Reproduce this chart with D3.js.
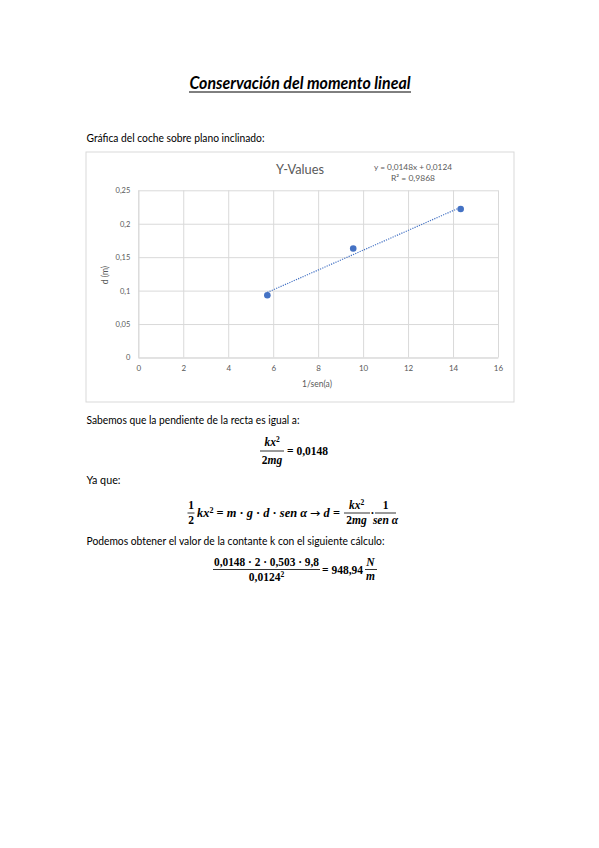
<!DOCTYPE html>
<html>
<head>
<meta charset="utf-8">
<style>
  body { margin: 0; background: #fff; }
  svg { display: block; }
  .body-text { font-family: Lato, "Open Sans", sans-serif; font-size: 10.5px; fill: #000; }
  .math { font-family: "Liberation Serif", "DejaVu Serif", serif; font-size: 11.5px; font-weight: bold; fill: #000; }
  .axis text { font-family: Lato, sans-serif; fill: #595959; }
</style>
</head>
<body>
<div id="page"></div>
<script src="https://d3js.org/d3.v7.min.js"></script>
<script>
  // Data
  const xValues = [5.74, 9.56, 14.34];
  const yValues = [0.093, 0.163, 0.222];
  const xTicks = [0, 2, 4, 6, 8, 10, 12, 14, 16];
  const yTicks = [0, 0.05, 0.1, 0.15, 0.2, 0.25];
  const yTickLabels = ['0', '0,05', '0,1', '0,15', '0,2', '0,25'];
  const trendSlope = 0.0148;
  const trendIntercept = 0.0124;

  const W = 599, H = 848;
  const svg = d3.select('#page').append('svg')
    .attr('width', W).attr('height', H);
  svg.append('rect').attr('width', W).attr('height', H).attr('fill', '#fff');

  // Page title
  svg.append('text')
    .attr('x', 300).attr('y', 89)
    .attr('text-anchor', 'middle')
    .attr('font-family', 'Lato, sans-serif')
    .attr('font-size', 16.5)
    .attr('font-weight', 'bold')
    .attr('font-style', 'italic')
    .attr('textLength', 221)
    .attr('lengthAdjust', 'spacingAndGlyphs')
    .text('Conservación del momento lineal');
  svg.append('line')
    .attr('x1', 189).attr('x2', 411).attr('y1', 92).attr('y2', 92)
    .attr('stroke', '#000').attr('stroke-width', 1);

  function para(txt, y, len) {
    svg.append('text').attr('class', 'body-text')
      .attr('x', 86.5).attr('y', y)
      .attr('textLength', len).attr('lengthAdjust', 'spacingAndGlyphs')
      .text(txt);
  }
  para('Gráfica del coche sobre plano inclinado:', 141.5, 178);
  para('Sabemos que la pendiente de la recta es igual a:', 424, 213);
  para('Ya que:', 484, 34);
  para('Podemos obtener el valor de la contante k con el siguiente cálculo:', 544.5, 298);

  // Chart frame
  svg.append('rect')
    .attr('x', 86).attr('y', 152).attr('width', 428).attr('height', 250)
    .attr('fill', '#fff').attr('stroke', '#d9d9d9').attr('stroke-width', 1);

  const plot = { left: 138.3, right: 498, top: 190.3, bottom: 357.5 };

  const x = d3.scaleLinear().domain([0, 16]).range([plot.left, plot.right]);
  const y = d3.scaleLinear().domain([0, 0.25]).range([plot.bottom, plot.top]);

  // Gridlines via axes
  const xAxis = d3.axisBottom(x).tickValues(xTicks)
    .tickSizeInner(-(plot.bottom - plot.top)).tickSizeOuter(0).tickPadding(8)
    .tickFormat(d3.format('d'));
  const gx = svg.append('g').attr('class', 'axis')
    .attr('transform', `translate(0,${plot.bottom})`).call(xAxis);
  gx.select('.domain').attr('stroke', '#d9d9d9');
  gx.selectAll('.tick line').attr('stroke', '#d9d9d9');
  gx.selectAll('.tick text').attr('font-size', 8);

  const yAxis = d3.axisLeft(y).tickValues(yTicks)
    .tickSizeInner(-(plot.right - plot.left)).tickSizeOuter(0).tickPadding(8)
    .tickFormat((d, i) => yTickLabels[i]);
  const gy = svg.append('g').attr('class', 'axis')
    .attr('transform', `translate(${plot.left},0)`).call(yAxis);
  gy.select('.domain').attr('stroke', '#d9d9d9');
  gy.selectAll('.tick line').attr('stroke', '#d9d9d9');
  gy.selectAll('.tick text').attr('font-size', 7.5);

  // Chart title
  svg.append('text')
    .attr('x', 300).attr('y', 173.5).attr('text-anchor', 'middle')
    .attr('font-family', 'Lato, sans-serif').attr('font-size', 13)
    .attr('fill', '#595959')
    .attr('textLength', 48).attr('lengthAdjust', 'spacingAndGlyphs')
    .text('Y-Values');

  // Axis titles
  svg.append('text')
    .attr('x', 317).attr('y', 387).attr('text-anchor', 'middle')
    .attr('font-family', 'Lato, sans-serif').attr('font-size', 8.5)
    .attr('fill', '#595959')
    .text('1/sen(a)');
  svg.append('text')
    .attr('transform', 'translate(107.5,275) rotate(-90)')
    .attr('text-anchor', 'middle')
    .attr('font-family', 'Lato, sans-serif').attr('font-size', 8.5)
    .attr('fill', '#595959')
    .text('d (m)');

  // Trendline (linear fit shown on the chart)
  const xExt = d3.extent(xValues);
  svg.append('line')
    .attr('x1', x(xExt[0])).attr('y1', y(trendSlope * xExt[0] + trendIntercept))
    .attr('x2', x(xExt[1])).attr('y2', y(trendSlope * xExt[1] + trendIntercept))
    .attr('stroke', '#4472c4').attr('stroke-width', 1.2)
    .attr('stroke-dasharray', '1.2,1.2');

  // Points
  svg.selectAll('circle.pt')
    .data(xValues.map((v, i) => ({ x: v, y: yValues[i] })))
    .enter().append('circle').attr('class', 'pt')
    .attr('cx', d => x(d.x)).attr('cy', d => y(d.y))
    .attr('r', 3.3).attr('fill', '#4472c4');

  // Trendline equation
  svg.append('text')
    .attr('x', 413).attr('y', 170).attr('text-anchor', 'middle')
    .attr('font-family', 'Lato, sans-serif').attr('font-size', 7.5)
    .attr('fill', '#595959')
    .attr('textLength', 78).attr('lengthAdjust', 'spacingAndGlyphs')
    .text('y = 0,0148x + 0,0124');
  svg.append('text')
    .attr('x', 413).attr('y', 181).attr('text-anchor', 'middle')
    .attr('font-family', 'Lato, sans-serif').attr('font-size', 7.5)
    .attr('fill', '#595959')
    .attr('textLength', 44).attr('lengthAdjust', 'spacingAndGlyphs')
    .text('R² = 0,9868');

  // ---- Math helpers ----
  // parts: [text, italic?, super?, font?]
  function mathText(xPos, yPos, parts, anchor) {
    const t = svg.append('text').attr('class', 'math')
      .attr('x', xPos).attr('y', yPos)
      .attr('text-anchor', anchor || 'start');
    parts.forEach(p => {
      const s = t.append('tspan').text(p[0]);
      if (p[1]) s.attr('font-style', 'italic');
      if (p[2]) s.attr('baseline-shift', 'super').attr('font-size', 7.5);
      if (p[3]) s.attr('font-family', p[3]).attr('font-weight', 'normal');
    });
    return t;
  }
  function fracLine(x1, x2, yPos) {
    svg.append('line').attr('x1', x1).attr('x2', x2)
      .attr('y1', yPos).attr('y2', yPos)
      .attr('stroke', '#000').attr('stroke-width', 0.8);
  }

  // Formula 1: kx^2 / 2mg = 0,0148
  mathText(272, 446, [['kx', true], ['2', false, true]], 'middle');
  fracLine(260, 284, 451);
  mathText(272, 464, [['2', false], ['mg', true]], 'middle');
  mathText(287, 455, [['= 0,0148']]);

  // Formula 2
  mathText(191, 509, [['1']], 'middle');
  fracLine(187.5, 194.5, 513);
  mathText(191, 523.5, [['2']], 'middle');
  mathText(197, 517, [
    ['kx', true], ['2', false, true], [' = '], ['m', true], [' · '], ['g', true],
    [' · '], ['d', true], [' · '], ['sen α', true], [' '], ['→', false, false, 'DejaVu Sans'],
    [' '], ['d', true], [' =']
  ]).attr('textLength', 143).attr('lengthAdjust', 'spacingAndGlyphs');
  mathText(356.5, 508.5, [['kx', true], ['2', false, true]], 'middle');
  fracLine(344, 370, 513);
  mathText(356.5, 523.5, [['2'], ['mg', true]], 'middle');
  mathText(372.5, 517, [['·']], 'middle');
  mathText(385.5, 509, [['1']], 'middle');
  fracLine(375, 396, 513);
  mathText(385.5, 523.5, [['sen α', true]], 'middle');

  // Formula 3
  mathText(266.5, 565.5, [['0,0148 · 2 · 0,503 · 9,8']], 'middle')
    .attr('textLength', 105).attr('lengthAdjust', 'spacingAndGlyphs');
  fracLine(213, 320, 569.5);
  mathText(266.5, 580.5, [['0,0124'], ['2', false, true]], 'middle');
  mathText(322, 573.5, [['= 948,94']]);
  mathText(370.5, 566, [['N', true]], 'middle');
  fracLine(365, 377, 569.5);
  mathText(370.5, 579.5, [['m', true]], 'middle');
</script>
</body>
</html>
